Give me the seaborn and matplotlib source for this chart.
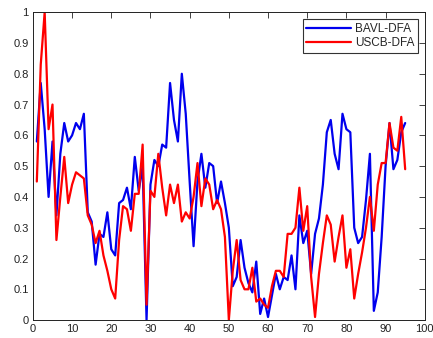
import numpy as np
import pandas as pd
import matplotlib
matplotlib.use("Agg")
import matplotlib.pyplot as plt
import seaborn as sns

x = list(range(1, 96))

bavl = [0.58, 0.77, 0.62, 0.40, 0.58, 0.34, 0.54, 0.64, 0.58, 0.60,
        0.64, 0.62, 0.67, 0.35, 0.32, 0.18, 0.28, 0.27, 0.35, 0.23,
        0.21, 0.38, 0.39, 0.43, 0.36, 0.53, 0.42, 0.50, 0.00, 0.44,
        0.52, 0.50, 0.57, 0.56, 0.77, 0.65, 0.58, 0.80, 0.67, 0.45,
        0.24, 0.45, 0.54, 0.43, 0.51, 0.50, 0.38, 0.45, 0.38, 0.30,
        0.11, 0.14, 0.26, 0.17, 0.12, 0.09, 0.19, 0.02, 0.07, 0.01,
        0.08, 0.15, 0.10, 0.14, 0.13, 0.21, 0.10, 0.34, 0.25, 0.29,
        0.15, 0.28, 0.33, 0.44, 0.61, 0.65, 0.54, 0.49, 0.67, 0.62,
        0.61, 0.30, 0.25, 0.27, 0.39, 0.54, 0.03, 0.09, 0.27, 0.50,
        0.64, 0.49, 0.52, 0.61, 0.64]

uscb = [0.45, 0.83, 1.00, 0.62, 0.70, 0.26, 0.40, 0.53, 0.38, 0.44,
        0.48, 0.47, 0.46, 0.34, 0.31, 0.25, 0.29, 0.21, 0.16, 0.10,
        0.07, 0.26, 0.37, 0.36, 0.29, 0.41, 0.41, 0.57, 0.05, 0.42,
        0.40, 0.54, 0.43, 0.34, 0.44, 0.38, 0.44, 0.32, 0.35, 0.33,
        0.40, 0.51, 0.37, 0.46, 0.44, 0.36, 0.39, 0.36, 0.27, 0.00,
        0.16, 0.26, 0.13, 0.10, 0.10, 0.17, 0.06, 0.07, 0.05, 0.04,
        0.11, 0.16, 0.16, 0.14, 0.28, 0.28, 0.30, 0.43, 0.29, 0.37,
        0.14, 0.01, 0.15, 0.25, 0.34, 0.31, 0.19, 0.27, 0.34, 0.17,
        0.23, 0.07, 0.15, 0.22, 0.30, 0.40, 0.29, 0.44, 0.51, 0.51,
        0.64, 0.56, 0.55, 0.66, 0.49]

df = pd.DataFrame({"x": x, "BAVL-DFA": bavl, "USCB-DFA": uscb})

sns.set_style("white")
plt.rcParams["font.family"] = ["Liberation Sans", "DejaVu Sans"]

fig = plt.figure(figsize=(4.33, 3.38), dpi=100)
ax = fig.add_axes([0.076, 0.053, 0.905, 0.911])

sns.lineplot(data=df, x="x", y="BAVL-DFA", color="#0000ee", lw=1.6, label="BAVL-DFA", ax=ax)
sns.lineplot(data=df, x="x", y="USCB-DFA", color="#ff0000", lw=1.6, label="USCB-DFA", ax=ax)

ax.set_xlim(0, 100)
ax.set_ylim(0, 1)
ax.set_xticks(np.arange(0, 101, 10))
ax.set_yticks(np.arange(0, 1.01, 0.1))
ax.set_yticklabels(["0", "0.1", "0.2", "0.3", "0.4", "0.5", "0.6", "0.7", "0.8", "0.9", "1"])
ax.set_xlabel("")
ax.set_ylabel("")
ax.tick_params(direction="in", length=4, width=0.6, labelsize=8, colors="#222222",
               top=True, right=True, pad=3)
for s in ax.spines.values():
    s.set_color("#222222")
    s.set_linewidth(0.7)

leg = ax.legend(loc="upper right", fontsize=8.5, frameon=True, fancybox=False,
                edgecolor="black", handlelength=3.8, borderpad=0.3,
                labelspacing=0.2, handletextpad=0.3, borderaxespad=0.6)
leg.get_frame().set_linewidth(0.8)

fig.savefig("out.png", dpi=100)
